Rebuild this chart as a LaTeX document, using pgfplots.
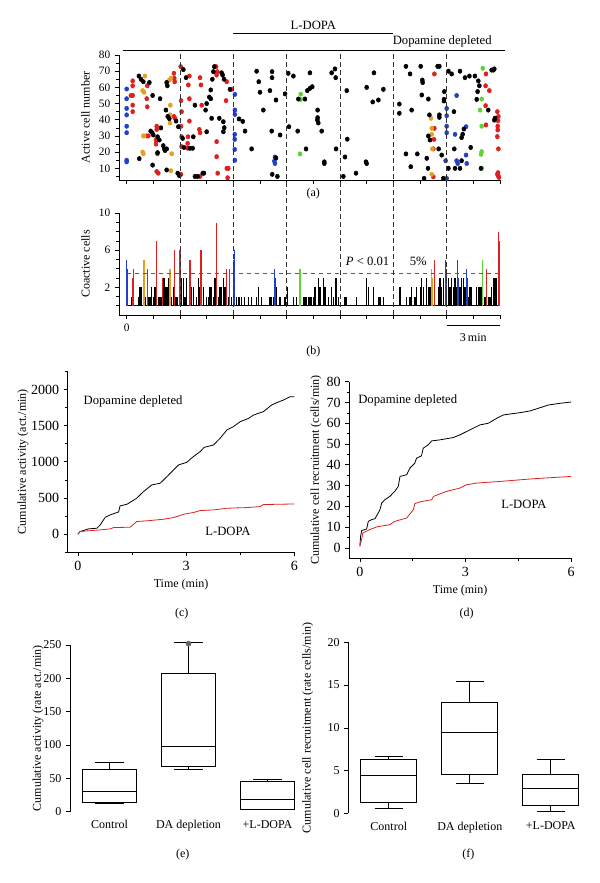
\documentclass[border=0pt]{standalone}
\usepackage{fontspec}
\setmainfont{Liberation Serif}
\usepackage{pgfplots}
\pgfplotsset{compat=1.18}
\usepgfplotslibrary{statistics}
\definecolor{cred}{RGB}{222,32,30}
\definecolor{cblue}{RGB}{35,65,200}
\definecolor{corange}{RGB}{228,160,30}
\definecolor{cgreen}{RGB}{95,210,55}
\pgfplotsset{
  base/.style={scale only axis, anchor=south west, axis lines=left,
    axis line style={-, line width=0.6pt}, tick align=outside,
    tick style={black, line width=0.5pt}, major tick length=3pt, minor tick length=2pt,
    tick label style={font=\fontsize{8.5}{9}\selectfont},
    label style={font=\fontsize{9}{10}\selectfont},
    /pgf/number format/assume math mode=true,
    /pgf/number format/set thousands separator={},
    scaled ticks=false},
  dot/.style={only marks, mark=*, mark size=1.65pt, mark options={xscale=0.9}},
  bar/.style={ycomb, line width=1.0pt, mark=none},
  bx/.style={black, line width=0.6pt, mark=none, boxplot/draw direction=y},
}
\begin{document}
\begin{tikzpicture}
\path[use as bounding box] (0,0) rectangle (450pt,662.25pt);
% ---------------- (a) raster
\begin{axis}[base, at={(89.25pt,527.25pt)}, width=285.75pt, height=93.75pt,
  xmin=-0.43, xmax=21, ymin=2.8, ymax=80,
  xtick={0,1.5,...,21}, xticklabels={}, ytick={10,20,...,80}, minor ytick={5,15,...,75},
  ylabel={Active cell number}, clip=false]
\addplot[dot, cblue] coordinates {(0,59) (0,53) (0,47) (0,43) (0,36) (0,32) (0,15) (0,14)
 (6.09,55.7) (6.09,46) (6.09,43.3) (6.08,31) (6.08,27.9) (6.08,21.7) (6.09,15)
 (8.34,17) (8.31,14.5) (8.34,13)
 (18,47) (18,42.5) (18,36) (18,32) (17.94,14.7) (18,3.8)
 (18.56,55) (18.47,31) (18.56,14.7) (18.62,13) (19.09,35.7) (19.09,18.2) (19.13,13)};
\addplot[dot, cred] coordinates {(0.34,64) (0.34,61) (0.34,55) (0.34,49) (0.34,45) (0.24,55)
 (1.16,61) (1.13,53) (1.16,48) (1.22,30) (1.13,30)
 (1.69,36) (1.69,34) (1.65,27.5) (1.65,25) (1.73,19) (1.69,8) (1.78,7)
 (2.66,68.7) (2.68,65.6) (2.7,63.5) (2.66,42) (2.72,40.9) (3.04,72.8) (3.06,6.3)
 (3.06,51.8) (3.09,45) (3.06,36) (3.09,29.5) (3.09,23.4)
 (3.47,61.5) (3.53,67) (3.53,53) (3.45,29.5) (3.43,25.4) (3.43,22.4) (3.53,39.2)
 (4.13,66) (4.18,61.5) (4.22,49) (4.09,34) (4.13,32) (4.13,5)
 (5.03,72.8) (5.1,69.7) (5.06,67.6) (5.06,26.5) (5.06,17.2) (5.12,7)
 (5.63,63.5) (5.59,51.8) (5.63,10) (5.72,10) (5.68,4.2) (5.91,58.8)
 (17.31,68.3) (17.31,34.7) (17.29,27.9) (17.25,22) (17.25,4.8)
 (20.21,68.3) (20.19,61) (20.4,58) (20.19,48.7) (20.21,36.8)
 (20.85,45) (20.91,42) (20.89,39.4) (20.87,36) (20.87,33.7) (20.85,29.6) (20.91,22)
 (20.89,7.3) (20.91,5.2) (20.85,6.3) (20.94,4.4)};
\addplot[dot, corange] coordinates {(1.03,67) (0.9,58) (0.98,57) (0.94,30) (0.99,30) (0.94,19) (0.9,20)
 (2.4,64.5) (2.49,65.6) (2.46,49) (2.44,43) (2.44,38) (2.53,19) (2.49,8.5)
 (17.12,40.9) (17.16,34.7) (17.16,31) (17.19,22) (17.16,6.3)};
\addplot[dot, cgreen] coordinates {(9.79,55.8) (9.79,52.6) (9.75,18.9)
 (20.03,71.8) (19.97,52.8) (19.88,46) (19.97,36) (19.97,20.3) (19.93,18.7) (19.97,10)};
\addplot[dot, black] coordinates {(0.69,67) (0.81,65) (0.94,63.5) (0.71,16)
 (1.28,63) (1.46,55) (1.88,53) (1.35,33) (1.44,32) (1.5,30.6) (1.46,12)
 (1.74,29.5) (1.74,19.7) (1.84,27.5) (2.06,24) (2.12,22) (2.16,21) (2.25,22) (1.93,35)
 (2.25,63) (2.29,61) (2.25,9) (2.21,46) (2.31,42) (2.4,40.7)
 (2.78,39.2) (2.87,7) (2.91,35.7) (2.96,5.5) (3.19,71) (3.34,66) (3.15,28.5) (3.23,22.9)
 (3.56,22.4) (3.71,22.4) (3.75,29.5) (3.84,49) (3.84,5) (3.99,5)
 (4.28,7) (4.35,7) (4.44,46) (4.5,50) (4.5,32.6) (4.65,54) (4.73,53) (4.78,40.9) (4.82,65)
 (4.73,58.4) (4.88,69.7) (4.93,72.8) (5.21,40.9) (5.34,69) (5.4,67.6) (5.48,65)
 (5.44,38.8) (5.49,35.1) (5.44,32.6) (5.81,58.8)
 (6.32,40.5) (6.53,39) (6.66,33) (7.03,22) (7.31,70) (7.43,63.5) (7.5,57) (7.69,46)
 (8.18,69.7) (8.18,66) (8.16,33) (8.19,6.3) (8.48,5) (8.4,52.2) (8.4,16.4) (8.06,58) (8.63,30.6)
 (8.91,56) (9.09,68.7) (9.13,35.7) (9.38,67) (9.62,33) (9.66,52.8)
 (10.03,52.8) (10.09,22) (10.31,69) (10.16,58) (10.31,59.4) (10.44,60.4)
 (10.74,46) (10.73,39.8) (10.74,41.3) (10.78,38) (10.97,33) (11.12,14) (11.12,13)
 (11.53,69) (11.72,71.4) (11.76,66) (11.78,22)
 (12.38,58) (12.41,28) (12.28,17) (12.19,5) (12.9,7)
 (13.5,60) (13.91,69) (13.84,51) (14.16,52.2) (14.44,58.8) (13.46,14) (13.5,13)
 (15.71,73) (15.94,68.3) (16.54,73) (16.63,64.5) (16.65,63) (16.6,55.3) (16.97,52.8)
 (15.34,49.7) (15.34,44) (16.03,46) (15.71,18.9) (16.35,18.9) (15.98,11) (16.73,3.8)
 (17.49,73) (17.59,73) (17.03,43) (17.06,27.5) (16.97,30) (16.88,16.2) (17.59,43) (17.59,41.5)
 (17.55,22) (17.72,18.2) (16.95,10) (17.87,57.4) (17.85,52.6) (17.85,51.6) (18.1,70) (17.81,3.8)
 (18.1,10) (18.28,68.3) (18.41,45) (18.43,22) (18.47,10) (18.75,70) (18.75,10)
 (19.03,66) (19.28,67) (18.97,34.3) (18.84,29) (18.9,31) (18.84,14.7) (19.35,22.9)
 (19.59,67) (19.69,52.6) (19.78,64) (19.84,61) (19.74,57.4)
 (19.93,10) (20.63,70.7) (20.68,71.4) (20.53,70.7) (20.34,46) (20.68,39.8) (20.72,41)};
\draw[line width=0.6pt] (axis cs:-0.2,83.1) -- (axis cs:21.28,83.1);
\draw[line width=0.6pt] (axis cs:6,93.6) -- (axis cs:15,93.6);
\node[font=\fontsize{9.5}{10}\selectfont] at (axis cs:10.5,98.3) {L-DOPA};
\node[font=\fontsize{9.5}{10}\selectfont] at (axis cs:17.75,88.2) {Dopamine depleted};
\node[font=\fontsize{9}{10}\selectfont] at (axis cs:10.5,-5.5) {(a)};
\end{axis}
% ---------------- (b) coactive cells
\begin{axis}[base, at={(89.25pt,426pt)}, width=285.75pt, height=76.3pt,
  xmin=-0.43, xmax=21, ymin=-1, ymax=10,
  xtick={1.5,3,...,21}, xticklabels={}, extra x ticks={0}, extra x tick labels={0},
  ytick={2,6,10}, minor ytick={0,1,...,10},
  ylabel={Coactive cells}, clip=false]
\addplot[black, line width=0.6pt] coordinates {(0,0) (20.95,0)};
\addplot[bar, black] coordinates {(0.28,1) (0.69,1) (0.75,2) (0.84,2) (0.94,3) (1.07,1) (1.22,1)
 (1.31,1) (1.41,2) (1.5,1) (1.59,2) (1.78,1) (1.88,1) (1.97,1) (2.06,3) (2.12,3) (2.21,2)
 (2.29,2) (2.34,3) (2.53,1) (2.63,2) (2.78,1) (2.85,1) (3.09,3) (3.19,3) (3.28,1) (3.38,3)
 (3.66,2) (3.75,2) (3.94,1) (4.03,3) (4.13,2) (4.22,1) (4.31,2) (4.5,1) (4.59,1) (4.69,2)
 (4.78,2) (4.88,1) (4.97,3) (5.16,1) (5.25,2) (5.34,2) (5.44,3) (5.53,2) (5.72,1) (5.91,1)
 (6.19,1) (6.32,1) (6.47,1) (6.62,1) (6.84,1) (7.03,1) (7.31,1) (7.41,2) (7.59,1) (8.06,1)
 (8.16,1) (8.25,1) (8.44,2) (8.63,1) (8.91,1) (9.04,2) (9.38,1) (9.56,1) (9.94,1) (10.03,1)
 (10.13,1) (10.22,1) (10.31,1) (10.41,1) (10.5,1) (10.59,2) (10.78,3) (10.88,2) (11.06,3)
 (11.16,2) (11.34,1) (11.53,2) (11.63,1) (11.78,3) (11.91,1) (12.28,1) (12.38,1) (12.94,1)
 (13.5,3) (13.59,2) (13.88,2) (14.16,1) (14.25,1) (14.44,1) (15.38,2) (15.75,1) (15.94,1)
 (16.03,2) (16.22,1) (16.31,2) (16.54,2) (16.6,3) (16.69,2) (16.88,3) (16.97,2) (17.06,2)
 (17.53,2) (17.63,3) (17.72,2) (17.81,3) (18.1,3) (18.19,2) (18.28,3) (18.38,2) (18.47,3)
 (18.56,2) (18.75,2) (18.84,3) (18.94,3) (19.03,2) (19.22,1) (19.31,2) (19.41,2) (19.69,2)
 (19.78,2) (19.88,2) (19.97,2) (20.16,1) (20.34,1) (20.44,1) (20.53,2) (20.63,3) (20.72,3) (20.81,3)};
\addplot[bar, cblue] coordinates {(0,5) (0.05,4) (6.0,5) (6.06,6) (8.3,4) (8.35,3) (17.94,5) (18.0,4)
 (18.6,5) (18.65,3) (19.13,4) (19.18,3)};
\addplot[bar, cred] coordinates {(0.34,3) (0.375,4) (1.16,4) (1.69,7) (2.0,3) (2.68,6) (2.96,6) (3.0,4) (3.04,6)
 (3.53,4) (3.56,5) (4.18,6) (5.06,9) (5.63,4) (5.78,4) (17.31,5) (20.25,4) (20.95,7) (20.91,8)};
\addplot[bar, corange] coordinates {(0.94,5) (1.0,5) (2.44,4) (17.16,4) (17.2,3)};
\addplot[bar, cgreen] coordinates {(9.75,4) (20.01,5)};
\addplot[cred, line width=0.85pt, dash pattern=on 3.5pt off 2.5pt] coordinates {(0,3.5) (21,3.5)};
\pgfplotsinvokeforeach{3,6,9,12,15,18}{
  \draw[black!80, line width=0.55pt, dash pattern=on 3.5pt off 2.5pt] (axis cs:#1,-1) -- (axis cs:#1,27.4);}
\draw[line width=0.6pt] (axis cs:18,-2.1) -- (axis cs:21,-2.1);
\node[font=\fontsize{9}{10}\selectfont] at (axis cs:19.5,-3.4) {3\,min};
\node[font=\fontsize{9}{10}\selectfont] at (axis cs:10.5,-5.0) {(b)};
\node[font=\fontsize{9.5}{10}\selectfont] at (axis cs:13.55,4.75) {\textit{P} < 0.01};
\node[font=\fontsize{9.5}{10}\selectfont] at (axis cs:16.4,4.75) {5\%};
\end{axis}
% ---------------- (c)
\begin{axis}[base, at={(50.8pt,248pt)}, width=170pt, height=135.75pt,
  xmin=-0.28, xmax=6, ymin=-250, ymax=2250,
  xtick={0,3,6}, minor xtick={1.5,4.5}, ytick={0,500,...,2000}, minor ytick={-250,250,750,1250,1750,2250},
  tick label style={font=\fontsize{10.5}{11}\selectfont},
  ylabel style={yshift=-5pt},
  xlabel={Time (min)}, ylabel={Cumulative activity (act./min)}, clip=false]
\addplot[black, line width=0.6pt] coordinates {(0,0) (0.065,37) (0.3,74) (0.53,83) (0.62,129) (0.76,235)
 (0.9,267) (1.13,308) (1.17,391) (1.36,414) (1.63,497) (1.82,589) (2.05,681) (2.28,704) (2.47,796)
 (2.65,888) (2.79,957) (3.02,994) (3.2,1072) (3.39,1141) (3.5,1200) (3.76,1233) (3.94,1325)
 (4.13,1440) (4.31,1486) (4.5,1555) (4.73,1600) (4.87,1647) (5.14,1693) (5.37,1785) (5.51,1817)
 (5.7,1854) (5.88,1900) (6,1900)};
\addplot[cred, line width=0.6pt] coordinates {(0,0) (0.065,37) (0.25,46) (0.62,60) (0.9,74) (0.99,92)
 (1.45,97) (1.63,175) (2.0,189) (2.37,207) (2.65,230) (2.93,276) (3.2,299) (3.39,327) (3.76,336)
 (4.13,359) (4.68,368) (5.05,382) (5.14,410) (6,418)};
\node[font=\fontsize{9.5}{10}\selectfont] at (axis cs:1.53,1829) {Dopamine depleted};
\node[font=\fontsize{9.5}{10}\selectfont] at (axis cs:4.16,36) {L-DOPA};
\end{axis}
% ---------------- (d)
\begin{axis}[base, at={(262pt,243.5pt)}, width=166.3pt, height=132.5pt,
  xmin=-0.3, xmax=6, ymin=-5, ymax=80,
  xtick={0,3,6}, minor xtick={1.5,4.5}, ytick={0,10,...,80}, minor ytick={5,15,...,75},
  tick label style={font=\fontsize{10.5}{11}\selectfont},
  ylabel style={yshift=-3pt},
  xlabel={Time (min)}, ylabel={Cumulative cell recruitment (cells/min)}, clip=false]
\addplot[black, line width=0.6pt] coordinates {(0,0.8) (0.02,5.6) (0.05,8.3) (0.19,9.1) (0.24,12.8)
 (0.33,13.6) (0.43,14.1) (0.52,16.8) (0.57,18.4) (0.62,21.6) (0.71,23.2) (0.85,24.8) (0.99,27.2)
 (1.09,29.6) (1.14,34.4) (1.33,35.2) (1.42,38.4) (1.56,40.8) (1.61,43.2) (1.75,44.3) (1.8,48)
 (1.94,49.6) (2.04,51.5) (2.27,52) (2.65,53.1) (2.84,54.4) (3.03,56) (3.22,57.6) (3.41,59.2)
 (3.65,60) (3.89,62.4) (4.08,64) (4.55,65.1) (4.83,65.9) (5.07,67.2) (5.36,68.8) (5.69,69.6) (6,70.2)};
\addplot[cred, line width=0.6pt] coordinates {(0,1.1) (0.05,4) (0.08,7.2) (0.28,8.8) (0.47,10.1)
 (0.85,11.2) (0.99,12.8) (1.33,14.4) (1.42,16.3) (1.52,18.4) (1.56,21.3) (1.71,22.2) (2.04,23.2)
 (2.09,24.8) (2.46,27.2) (2.84,28.8) (3.03,30.4) (3.32,31.2) (3.98,32) (4.93,33.3) (6,34.4)};
\node[font=\fontsize{9.5}{10}\selectfont] at (axis cs:1.36,71.2) {Dopamine depleted};
\node[font=\fontsize{9.5}{10}\selectfont] at (axis cs:4.66,20.8) {L-DOPA};
\end{axis}
% ---------------- (e)
\begin{axis}[base, at={(52.5pt,53.5pt)}, width=177.75pt, height=125pt,
  xmin=0.5, xmax=3.5, ymin=0, ymax=250,
  x axis line style={draw=none}, xtick style={draw=none},
  xtick={1,2,3}, xticklabels={Control, DA depletion, +L-DOPA},
  ytick={0,50,...,250},
  tick label style={font=\fontsize{9}{10}\selectfont},
  ylabel style={yshift=-7pt},
  ylabel={Cumulative activity (rate act./min)}, clip=false]
\addplot[bx, boxplot prepared={draw position=1, lower whisker=13, lower quartile=14,
  median=30.5, upper quartile=64, upper whisker=74, box extend=0.68, whisker extend=0.37}] coordinates {};
\addplot[bx, boxplot prepared={draw position=2, lower whisker=63, lower quartile=68,
  median=98, upper quartile=208, upper whisker=254, box extend=0.68, whisker extend=0.37}] coordinates {};
\addplot[bx, boxplot prepared={draw position=3, lower whisker=3, lower quartile=4,
  median=19, upper quartile=46, upper whisker=49, box extend=0.68, whisker extend=0.37}] coordinates {};
\addplot[only marks, mark=*, mark size=1.9pt, black!60] coordinates {(2,252)};
\end{axis}
% ---------------- (f)
\begin{axis}[base, at={(261.2pt,52.25pt)}, width=182.25pt, height=128.25pt,
  xmin=0.5, xmax=3.5, ymin=0, ymax=20,
  x axis line style={draw=none}, xtick style={draw=none},
  xtick={1,2,3}, xticklabels={Control, DA depletion, +L-DOPA},
  ytick={0,5,...,20},
  tick label style={font=\fontsize{9}{10}\selectfont},
  ylabel style={yshift=4pt},
  ylabel={Cumulative cell recruitment (rate cells/min)}, clip=false]
\addplot[bx, boxplot prepared={draw position=1, lower whisker=0.6, lower quartile=1.25,
  median=4.4, upper quartile=6.3, upper whisker=6.65, box extend=0.69, whisker extend=0.35}] coordinates {};
\addplot[bx, boxplot prepared={draw position=2, lower whisker=3.45, lower quartile=4.6,
  median=9.5, upper quartile=12.95, upper whisker=15.4, box extend=0.69, whisker extend=0.35}] coordinates {};
\addplot[bx, boxplot prepared={draw position=3, lower whisker=0.2, lower quartile=0.95,
  median=2.9, upper quartile=4.6, upper whisker=6.25, box extend=0.69, whisker extend=0.35}] coordinates {};
\end{axis}
\node[font=\fontsize{9}{10}\selectfont] at (136.3pt,202pt) {(c)};
\node[font=\fontsize{9}{10}\selectfont] at (350pt,202pt) {(d)};
\node[font=\fontsize{9}{10}\selectfont] at (137pt,21pt) {(e)};
\node[font=\fontsize{9}{10}\selectfont] at (351.2pt,21pt) {(f)};
\end{tikzpicture}
\end{document}
